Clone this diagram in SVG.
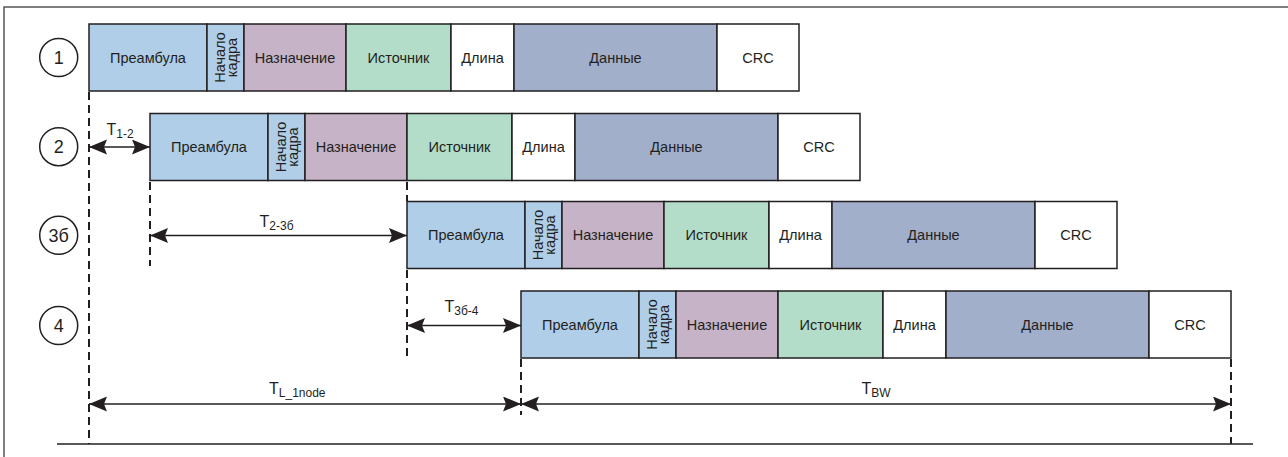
<svg xmlns="http://www.w3.org/2000/svg" width="1288" height="457" viewBox="0 0 1288 457">
  <style>
    text { font-family: "Liberation Sans", Arial, sans-serif; fill: #231F20; }
    .lbl { font-size: 14.5px; text-anchor: middle; }
    .num { font-size: 18px; text-anchor: middle; }
    .t { font-size: 16px; }
    .sub { font-size: 12px; }
    .cell { stroke: #231F20; stroke-width: 1.5; }
    .pre { fill: #B0CEE8; }
    .dst { fill: #C6B3C7; }
    .src { fill: #B3DDC8; }
    .len { fill: #FFFFFF; }
    .dat { fill: #A2AFCB; }
    .crc { fill: #FFFFFF; }
    .ring { fill: #FFFFFF; stroke: #231F20; stroke-width: 1.5; }
    .dash { stroke: #231F20; stroke-width: 2; stroke-dasharray: 8 5; fill: none; }
    .dim { stroke: #231F20; stroke-width: 1.5; fill: none; marker-start: url(#head); marker-end: url(#head); }
  </style>
  <defs>
    <marker id="head" markerUnits="userSpaceOnUse" markerWidth="20" markerHeight="16" refX="18" refY="7.5" orient="auto-start-reverse" viewBox="0 0 20 16">
      <path d="M0,0 L18,7.5 L0,15 L3,7.5 Z" fill="#231F20"/>
    </marker>
    <!-- one Ethernet frame, origin at its top-left corner -->
    <g id="frame">
      <rect class="cell pre" x="0" y="0" width="118" height="67"/>
      <rect class="cell pre" x="118" y="0" width="37" height="67"/>
      <rect class="cell dst" x="155" y="0" width="102" height="67"/>
      <rect class="cell src" x="257" y="0" width="105" height="67"/>
      <rect class="cell len" x="362" y="0" width="63" height="67"/>
      <rect class="cell dat" x="425" y="0" width="203" height="67"/>
      <rect class="cell crc" x="628" y="0" width="82" height="67"/>
      <text class="lbl" x="59" y="38.5">Преамбула</text>
      <text class="lbl" transform="translate(136,33.5) rotate(-90)">Начало</text>
      <text class="lbl" transform="translate(148,33.5) rotate(-90)">кадра</text>
      <text class="lbl" x="206" y="38.5">Назначение</text>
      <text class="lbl" x="309.5" y="38.5">Источник</text>
      <text class="lbl" x="393.5" y="38.5">Длина</text>
      <text class="lbl" x="526.5" y="38.5">Данные</text>
      <text class="lbl" x="669" y="38.5">CRC</text>
    </g>
  </defs>

  <!-- outer border -->
  <path d="M4,457 V7 H1288" fill="none" stroke="#555555" stroke-width="1.5"/>

  <!-- time axis -->
  <line x1="57" y1="444" x2="1253" y2="444" stroke="#231F20" stroke-width="1.5"/>

  <g id="node1">
    <circle class="ring" cx="58.7" cy="57.5" r="19"/>
    <text class="num" x="58.7" y="64">1</text>
    <use href="#frame" x="89" y="24"/>
  </g>
  <g id="node2">
    <circle class="ring" cx="58.7" cy="146.7" r="19"/>
    <text class="num" x="58.7" y="153.2">2</text>
    <use href="#frame" x="150" y="113.5"/>
  </g>
  <g id="node3b">
    <circle class="ring" cx="58.7" cy="235.3" r="19"/>
    <text class="num" x="58.7" y="241.8">3б</text>
    <use href="#frame" x="407" y="201.5"/>
  </g>
  <g id="node4">
    <circle class="ring" cx="58.7" cy="325.5" r="19"/>
    <text class="num" x="58.7" y="332">4</text>
    <use href="#frame" x="521" y="291"/>
  </g>

  <g id="connectors">
    <!-- reference markers -->
    <line class="dash" x1="89" y1="92" x2="89" y2="444"/>
    <line class="dash" x1="150" y1="182" x2="150" y2="266"/>
    <line class="dash" x1="407" y1="182" x2="407" y2="201"/>
    <line class="dash" x1="407" y1="270" x2="407" y2="358"/>
    <line class="dash" x1="521" y1="359" x2="521" y2="415"/>
    <line class="dash" x1="1231" y1="359" x2="1231" y2="444"/>

    <!-- delay intervals -->
    <line class="dim" x1="89" y1="147" x2="150" y2="147"/>
    <line class="dim" x1="150" y1="235.5" x2="407" y2="235.5"/>
    <line class="dim" x1="407" y1="325.5" x2="521" y2="325.5"/>
    <line class="dim" x1="89" y1="404" x2="521" y2="404"/>
    <line class="dim" x1="521" y1="404" x2="1231" y2="404"/>
  </g>

  <g id="labels">
    <text x="106.5" y="135"><tspan class="t">T</tspan><tspan class="sub" dy="3">1-2</tspan></text>
    <text x="259.5" y="226.5"><tspan class="t">T</tspan><tspan class="sub" dy="3">2-3б</tspan></text>
    <text x="444.5" y="312"><tspan class="t">T</tspan><tspan class="sub" dy="3">3б-4</tspan></text>
    <text x="269" y="394"><tspan class="t">T</tspan><tspan class="sub" dy="3">L_1node</tspan></text>
    <text x="861.5" y="393.5"><tspan class="t">T</tspan><tspan class="sub" dy="3">BW</tspan></text>
  </g>
</svg>
